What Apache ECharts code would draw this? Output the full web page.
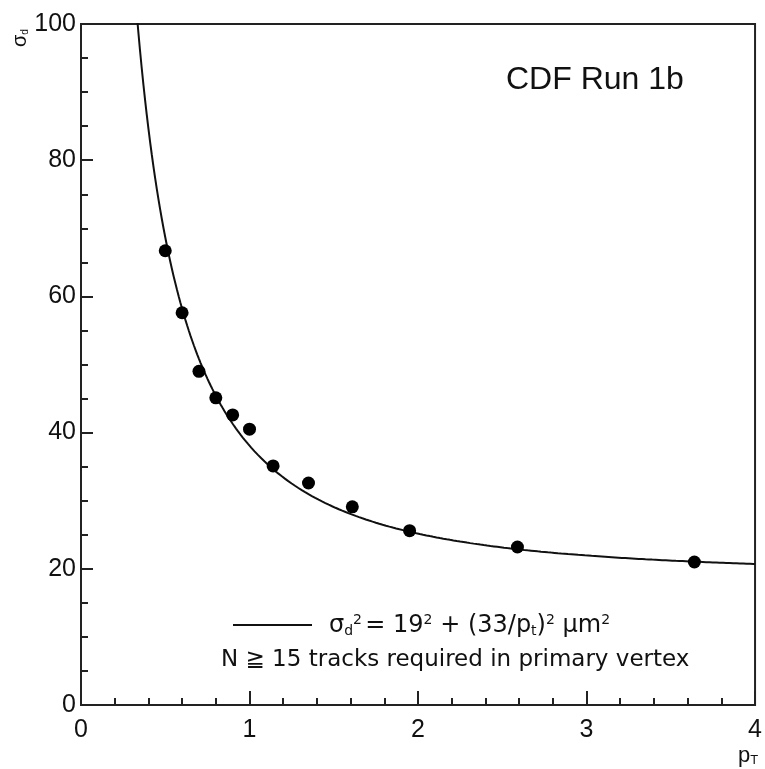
<!DOCTYPE html>
<html>
<head>
<meta charset="utf-8">
<script src="https://cdn.jsdelivr.net/npm/echarts@6/dist/echarts.min.js"></script>
<style>
  html, body { margin: 0; padding: 0; background: #fff; }
  #chart { width: 765px; height: 769px; }
</style>
</head>
<body>
<div id="chart"></div>
<script>
// Impact parameter resolution versus transverse momentum
var ptValues    = [0.50, 0.60, 0.70, 0.80, 0.90, 1.00, 1.14, 1.35, 1.61, 1.95, 2.59, 3.64];
var sigmaValues = [66.7, 57.6, 49.0, 45.1, 42.6, 40.5, 35.1, 32.6, 29.1, 25.6, 23.2, 21.0];

// Fit parameters quoted in the legend: sigma^2 = a^2 + (b/pt)^2
var fitConstant = 19;
var fitSlope = 33;

var xTicks = [0, 1, 2, 3, 4];
var yTicks = [0, 20, 40, 60, 80, 100];

var points = ptValues.map(function (p, i) { return [p, sigmaValues[i]]; });

var fitCurve = [];
for (var p = 0.30; p <= 4.0001; p += 0.01) {
  fitCurve.push([p, Math.sqrt(fitConstant * fitConstant + Math.pow(fitSlope / p, 2))]);
}

var FONT = '"Liberation Sans", Arial, sans-serif';
var WIDE = '"DejaVu Sans", sans-serif';
var INK = '#111';

function majorAxis(ticks, step, tickLen, margin) {
  return {
    type: 'value',
    min: ticks[0], max: ticks[ticks.length - 1], interval: step,
    axisLine: { show: true, lineStyle: { color: '#222', width: 2 } },
    axisTick: { show: true, inside: true, length: tickLen, lineStyle: { color: '#222', width: 2 } },
    splitLine: { show: false },
    axisLabel: { color: INK, fontFamily: FONT, fontSize: 25, margin: margin }
  };
}
// Second axis on the same edge carrying only the short inward minor ticks
function minorAxis(ticks, step) {
  return {
    type: 'value',
    min: ticks[0], max: ticks[ticks.length - 1], interval: step,
    axisLine: { show: false },
    axisTick: { show: true, inside: true, length: 7, lineStyle: { color: '#222', width: 2 } },
    axisLabel: { show: false },
    splitLine: { show: false }
  };
}

var xMajor = majorAxis(xTicks, 1, 14, 13);
var xMinor = minorAxis(xTicks, 0.2);
xMinor.position = 'bottom';
var yMajor = majorAxis(yTicks, 20, 12, 5);
var yMinor = minorAxis(yTicks, 5);
yMinor.position = 'left';

var chart = echarts.init(document.getElementById('chart'));

chart.setOption({
  animation: false,
  backgroundColor: '#fff',
  grid: {
    left: 81, right: 6, top: 24, bottom: 64,
    show: true, borderColor: '#222', borderWidth: 2, backgroundColor: 'transparent'
  },
  xAxis: [xMajor, xMinor],
  yAxis: [yMajor, yMinor],
  series: [
    {
      type: 'line',
      data: fitCurve,
      showSymbol: false,
      clip: true,
      lineStyle: { color: INK, width: 2 },
      z: 2
    },
    {
      type: 'scatter',
      data: points,
      symbol: 'circle',
      symbolSize: 13,
      itemStyle: { color: '#000', opacity: 1 },
      z: 3
    }
  ],
  graphic: [
    {
      type: 'text', left: 506, top: 64,
      style: { text: 'CDF Run 1b', fontFamily: FONT, fontSize: 32, fill: INK }
    },
    {
      type: 'line',
      shape: { x1: 233, y1: 625, x2: 312, y2: 625 },
      style: { stroke: INK, lineWidth: 2 }
    },
    {
      type: 'text', left: 329, top: 613,
      style: {
        text: '{b|σ}{s|d}{p|2} {b|= 19}{p|2}{b| + (33/p}{s|t}{b|)}{p|2}{b| μm}{p|2}',
        rich: {
          b: { fontFamily: WIDE, fontSize: 24, fill: INK },
          s: { fontFamily: WIDE, fontSize: 14, fill: INK, verticalAlign: 'bottom', padding: [11, 0, 0, 0] },
          p: { fontFamily: WIDE, fontSize: 14, fill: INK, verticalAlign: 'top', padding: [0, 0, 9, 0] }
        }
      }
    },
    {
      type: 'text', left: 221, top: 649,
      style: { text: 'N ≧ 15 tracks required in primary vertex',
        fontFamily: WIDE, fontSize: 23, fill: INK }
    },
    {
      type: 'text', left: 738, top: 745,
      style: {
        text: '{b|p}{s|T}',
        rich: {
          b: { fontFamily: FONT, fontSize: 22, fill: INK },
          s: { fontFamily: FONT, fontSize: 13, fill: INK, verticalAlign: 'bottom' }
        }
      }
    },
    {
      type: 'text', x: 10, y: 47, rotation: Math.PI / 2,
      style: {
        text: '{b|σ}{s|d}',
        rich: {
          b: { fontFamily: FONT, fontSize: 20, fill: INK },
          s: { fontFamily: FONT, fontSize: 10, fill: INK, verticalAlign: 'bottom' }
        }
      }
    }
  ]
});
</script>
</body>
</html>
